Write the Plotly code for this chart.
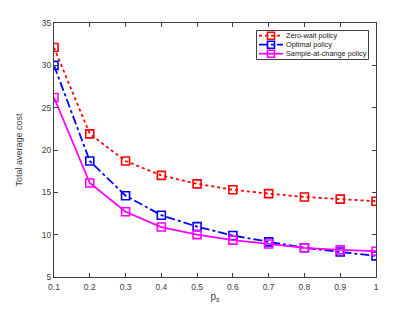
import plotly.graph_objects as go

ps = [0.1, 0.2, 0.3, 0.4, 0.5, 0.6, 0.7, 0.8, 0.9, 1.0]
zero_wait = [32.1, 21.9, 18.7, 17.0, 16.0, 15.3, 14.85, 14.45, 14.2, 13.95]
optimal = [30.0, 18.7, 14.6, 12.3, 10.95, 9.9, 9.15, 8.45, 7.95, 7.5]
sample_at_change = [26.2, 16.1, 12.7, 10.9, 10.0, 9.35, 8.9, 8.45, 8.2, 8.05]

x_ticks = [0.1, 0.2, 0.3, 0.4, 0.5, 0.6, 0.7, 0.8, 0.9, 1.0]
x_tick_labels = ["0.1", "0.2", "0.3", "0.4", "0.5", "0.6", "0.7", "0.8", "0.9", "1"]
y_ticks = [5, 10, 15, 20, 25, 30, 35]

series_names = ["Zero-wait policy", "Optimal policy", "Sample-at-change policy"]
series_values = [zero_wait, optimal, sample_at_change]
series_colors = ["#ff0000", "#0000ff", "#ff00ff"]
series_dash = ["dot", "dashdot", "solid"]

# figure geometry (pixels)
W, H = 415, 312
ML, MR, MT, MB = 54, 39, 23, 35
PW, PH = W - ML - MR, H - MT - MB

def px(x):
    return (x - ML) / PW

def py(y):
    return (H - MB - y) / PH

fig = go.Figure()
for name, vals, color, dash in zip(series_names, series_values, series_colors, series_dash):
    fig.add_trace(go.Scatter(
        x=ps, y=vals, name=name, mode="lines+markers", showlegend=False,
        line=dict(color=color, width=1.8, dash=dash),
        marker=dict(symbol="square-open", size=8, color=color, line=dict(width=1.6, color=color)),
    ))

# custom compact legend (MATLAB-style)
shapes = [dict(type="rect", xref="paper", yref="paper",
               x0=px(256.5), x1=px(368.5), y0=py(59.5), y1=py(30.5),
               line=dict(color="#404040", width=1), fillcolor="white", layer="above")]
annotations = []
row_y = [35.7, 44.7, 53.7]
for name, color, dash, yy in zip(series_names, series_colors, series_dash, row_y):
    shapes.append(dict(type="line", xref="paper", yref="paper",
                       x0=px(259), x1=px(283), y0=py(yy), y1=py(yy),
                       line=dict(color=color, width=1.8, dash=dash), layer="above"))
    shapes.append(dict(type="rect", xref="paper", yref="paper",
                       x0=px(267.5), x1=px(274.5), y0=py(yy + 3.5), y1=py(yy - 3.5),
                       line=dict(color=color, width=1.6), fillcolor="rgba(0,0,0,0)", layer="above"))
    annotations.append(dict(x=px(283.5), y=py(yy), xref="paper", yref="paper",
                            text=name, showarrow=False, xanchor="left", yanchor="middle",
                            font=dict(family="Liberation Sans, Arial", size=7.3, color="#202020")))

axis_common = dict(
    showline=True, linecolor="#404040", linewidth=1, mirror="ticks",
    ticks="inside", ticklen=4, tickcolor="#404040", showgrid=False, zeroline=False,
    automargin=False,
    tickfont=dict(family="Liberation Sans, Arial", size=8.5, color="#404040"),
)

fig.update_layout(
    width=W, height=H,
    margin=dict(l=ML, r=MR, t=MT, b=MB, autoexpand=False),
    paper_bgcolor="white", plot_bgcolor="white",
    font=dict(family="Liberation Sans, Arial", size=9, color="#404040"),
    xaxis=dict(range=[0.1, 1.0], tickvals=x_ticks, ticktext=x_tick_labels, ticklabelstandoff=2,
               title=dict(text="p<sub>s</sub>", standoff=1, font=dict(size=10)), **axis_common),
    yaxis=dict(range=[5, 35], tickvals=y_ticks,
               title=dict(text="Total average cost", standoff=17, font=dict(size=9)), **axis_common),
    shapes=shapes,
    annotations=annotations,
    showlegend=False,
)

fig.write_html("out.html", config={"displayModeBar": False},
               post_script="document.body.style.margin='0';document.body.style.padding='0';")
